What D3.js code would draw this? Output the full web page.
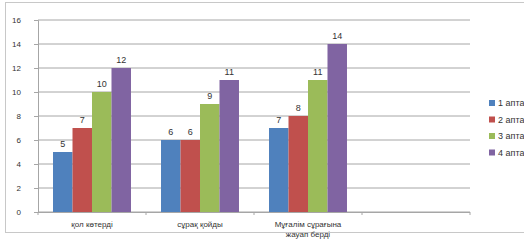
<!DOCTYPE html>
<html><head><meta charset="utf-8">
<script src="https://cdn.jsdelivr.net/npm/d3@7"></script>
<style>body{margin:0;background:#fff;}svg{display:block;font-family:"Liberation Sans",Arial,sans-serif;}</style>
</head><body>
<svg id="c" width="524" height="240"></svg>
<script>
const categories = [["қол көтерді"], ["сұрақ қойды"], ["Мұғалім сұрағына", "жауап берді"], [""]];
const series = ["1 апта", "2 апта", "3 апта", "4 апта"];
const values = [
  [5, 6, 7],
  [7, 6, 8],
  [10, 9, 11],
  [12, 11, 14]
];
const colors = ["#4F81BD", "#C0504D", "#9BBB59", "#8064A2"];
const yTicks = [0, 2, 4, 6, 8, 10, 12, 14, 16];

const svg = d3.select("#c");
svg.append("rect").attr("x", 5.5).attr("y", 2.5).attr("width", 530).attr("height", 230)
  .attr("fill", "#fff").attr("stroke", "#c8c8c8");

const pL = 38, pR = 470, pT = 20, pB = 212;
const x = d3.scaleBand().domain(d3.range(categories.length)).range([pL, pR]);
const x1 = d3.scaleBand().domain(d3.range(series.length)).range([0, x.bandwidth()]).paddingOuter(0.77).paddingInner(0);
const y = d3.scaleLinear().domain([0, 16]).range([pB, pT]);

// gridlines
svg.append("g").selectAll("line").data(yTicks).join("line")
  .attr("x1", pL).attr("x2", pR).attr("y1", d => y(d)).attr("y2", d => y(d))
  .attr("stroke", "#a6a6a6").attr("stroke-width", 1);

// y axis
const ya = svg.append("g").attr("transform", `translate(${pL},0)`)
  .call(d3.axisLeft(y).tickValues(yTicks).tickSize(4).tickPadding(13));
ya.select(".domain").attr("stroke", "#a6a6a6");
ya.selectAll(".tick line").attr("stroke", "#a6a6a6");
ya.selectAll("text").attr("font-size", 8).attr("fill", "#333");

// bars
series.forEach((s, si) => {
  const g = svg.append("g");
  g.selectAll("rect").data(values[si]).join("rect")
    .attr("x", (d, i) => x(i) + x1(si))
    .attr("y", d => y(d))
    .attr("width", x1.bandwidth())
    .attr("height", d => pB - y(d))
    .attr("fill", colors[si]);
  g.selectAll("text").data(values[si]).join("text")
    .attr("x", (d, i) => x(i) + x1(si) + x1.bandwidth() / 2)
    .attr("y", d => y(d) - 5)
    .attr("text-anchor", "middle").attr("font-size", 9).attr("fill", "#333")
    .text(d => d);
});

// x axis
svg.append("line").attr("x1", pL).attr("x2", pR).attr("y1", pB + 0.5).attr("y2", pB + 0.5).attr("stroke", "#a6a6a6");
const xTicks = d3.range(categories.length + 1).map(i => pL + i * x.bandwidth());
svg.append("g").selectAll("line").data(xTicks).join("line")
  .attr("x1", d => d).attr("x2", d => d).attr("y1", pB).attr("y2", pB + 3).attr("stroke", "#a6a6a6");
svg.append("g").selectAll("text").data(categories).join("text")
  .attr("text-anchor", "middle").attr("font-size", 8).attr("fill", "#333")
  .attr("transform", (d, i) => `translate(${x(i) + x.bandwidth() / 2},${pB + 15})`)
  .selectAll("tspan").data(d => d).join("tspan")
  .attr("x", 0).attr("dy", (d, j) => j === 0 ? 0 : 10).text(d => d);

// legend
const lg = svg.append("g");
series.forEach((s, si) => {
  const yy = 103 + si * 16.5;
  lg.append("rect").attr("x", 489).attr("y", yy - 3).attr("width", 6).attr("height", 6).attr("fill", colors[si]);
  lg.append("text").attr("x", 498).attr("y", yy + 3).attr("font-size", 9).attr("fill", "#333").text(s);
});
</script>
</body></html>
